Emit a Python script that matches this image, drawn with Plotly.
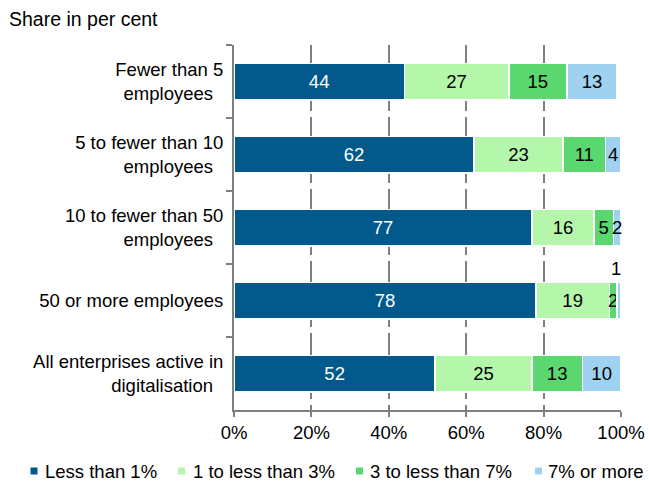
import plotly.graph_objects as go

# Enterprise size classes (top to bottom)
categories = [
    "Fewer than 5<br>employees\u00a0\u00a0",
    "5 to fewer than 10<br>employees\u00a0\u00a0",
    "10 to fewer than 50<br>employees\u00a0\u00a0",
    "50 or more employees",
    "All enterprises active in<br>digitalisation\u00a0\u00a0",
]

series_names = ["Less than 1%", "1 to less than 3%", "3 to less than 7%", "7% or more"]
less_than_1 = [44, 62, 77, 78, 52]
one_to_3 = [27, 23, 16, 19, 25]
three_to_7 = [15, 11, 5, 2, 13]
seven_plus = [13, 4, 2, 1, 10]

colors = ["#01598C", "#B4F6AA", "#5AD86F", "#9ED2F0"]
text_colors = ["white", "black", "black", "black"]
x_ticks = [0, 20, 40, 60, 80, 100]
x_tick_labels = ["0%", "20%", "40%", "60%", "80%", "100%"]

FONT = "Liberation Sans, Arial, sans-serif"
FS = 18.5

W, H = 649, 483
ML, MR, MT, MB = 234, 28, 45, 73
PW, PH = W - ML - MR, H - MT - MB


def px_x(px):
    """pixel column -> plot-area paper x"""
    return (px - ML) / PW


def px_y(py):
    """pixel row -> plot-area paper y"""
    return (H - MB - py) / PH


fig = go.Figure()
all_series = [less_than_1, one_to_3, three_to_7, seven_plus]
for name, vals, col, tcol in zip(series_names, all_series, colors, text_colors):
    # a 1% segment is too thin to hold its label; it is written above the bar
    labels = ["" if v == 1 else str(v) for v in vals]
    fig.add_trace(go.Bar(
        y=categories, x=vals, name=name, orientation="h",
        marker=dict(color=col, line=dict(color="white", width=1.5)),
        text=labels, textposition="inside", insidetextanchor="middle",
        constraintext="none", cliponaxis=False,
        textfont=dict(family=FONT, size=FS, color=tcol),
        hoverinfo="skip", showlegend=False,
    ))

# label for the thin 7%-or-more segment of the "50 or more" row
for i, v in enumerate(seven_plus):
    if v == 1:
        x_pos = less_than_1[i] + one_to_3[i] + three_to_7[i] + v / 2
        fig.add_annotation(
            x=x_pos, y=categories[i], xref="x", yref="y",
            text=str(v), showarrow=False, yshift=32, xshift=-3,
            font=dict(family=FONT, size=FS, color="black"),
        )

# chart subtitle
fig.add_annotation(
    x=px_x(7), y=px_y(19), xref="paper", yref="paper",
    xanchor="left", yanchor="middle", text="Share in per cent", showarrow=False,
    font=dict(family=FONT, size=19.5, color="black"),
)

# legend: small square keys followed by labels
legend_key_x = [34, 181.5, 359.5, 538.5]
legend_text_x = [43, 191, 368, 546]
legend_y = 471
for name, col, kx, tx in zip(series_names, colors, legend_key_x, legend_text_x):
    fig.add_shape(
        type="rect", xref="paper", yref="paper",
        x0=px_x(kx - 3.5), x1=px_x(kx + 3.5),
        y0=px_y(legend_y + 3.5), y1=px_y(legend_y - 3.5),
        fillcolor=col, line=dict(width=0),
    )
    fig.add_annotation(
        x=px_x(tx), y=px_y(legend_y), xref="paper", yref="paper",
        xanchor="left", yanchor="middle", text=name, showarrow=False,
        font=dict(family=FONT, size=FS, color="black"),
    )

fig.update_layout(
    barmode="stack",
    bargap=0.5,
    width=W, height=H,
    margin=dict(l=ML, r=MR, t=MT, b=MB, autoexpand=False),
    paper_bgcolor="white", plot_bgcolor="white",
    font=dict(family=FONT, size=FS, color="black"),
    showlegend=False,
    xaxis=dict(
        range=[0, 100], tickvals=x_ticks, ticktext=x_tick_labels,
        showgrid=True, gridcolor="#808080", gridwidth=2, griddash="30px,6px",
        showline=True, linecolor="#808080", linewidth=2,
        ticks="outside", ticklen=5, tickcolor="#808080", tickwidth=2,
        zeroline=False, fixedrange=True, automargin=False,
        tickfont=dict(family=FONT, size=FS, color="black"),
    ),
    yaxis=dict(
        autorange="reversed", showgrid=False,
        showline=True, linecolor="#808080", linewidth=2,
        ticks="outside", ticklen=6, tickcolor="#808080", tickwidth=2,
        tickson="boundaries", ticklabelstandoff=5, fixedrange=True,
        automargin=False,
        tickfont=dict(family=FONT, size=FS, color="black"),
    ),
)

fig.write_html("out.html")
